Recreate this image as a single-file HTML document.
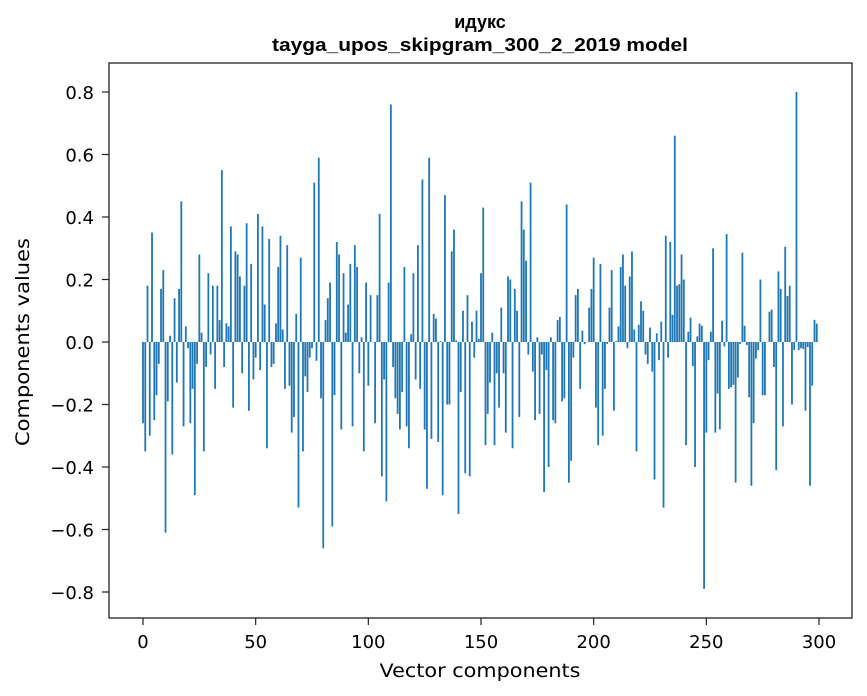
<!DOCTYPE html>
<html><head><meta charset="utf-8"><style>
html,body{margin:0;padding:0;background:#fff;}
svg{display:block;font-family:"DejaVu Sans","Liberation Sans",sans-serif;}
</style></head><body>
<svg id="chart" width="867" height="696" viewBox="0 0 867 696" xmlns="http://www.w3.org/2000/svg">
<rect x="0" y="0" width="867" height="696" fill="#fff"/>
<text x="480" y="28" text-anchor="middle" font-size="18" font-weight="bold" font-family="Liberation Sans, sans-serif">идукс</text>
<text x="480" y="51" text-anchor="middle" font-size="18" font-weight="bold" font-family="Liberation Sans, sans-serif" textLength="416" lengthAdjust="spacingAndGlyphs">tayga_upos_skipgram_300_2_2019 model</text>
<g id="bars"></g>
<g id="xticks"></g>
<g id="yticks"></g>
<rect x="109" y="63" width="743" height="555" fill="none" stroke="#222" stroke-width="1.3"/>
<text x="480" y="677" text-anchor="middle" font-size="19" textLength="201" lengthAdjust="spacingAndGlyphs">Vector components</text>
<text x="29" y="342" text-anchor="middle" font-size="19" textLength="208" lengthAdjust="spacingAndGlyphs" transform="rotate(-90 29 342)">Components values</text>
</svg>
<script>
const values = [
-0.26,-0.35,0.18,-0.30,0.35,-0.25,-0.17,-0.07,0.17,0.23,
-0.61,-0.19,0.02,-0.36,0.14,-0.13,0.17,0.45,-0.27,0.05,
-0.02,-0.26,-0.15,-0.49,-0.07,0.28,0.03,-0.35,-0.08,0.22,
-0.04,0.18,-0.15,0.18,0.07,0.55,-0.08,0.06,0.05,0.37,
-0.21,0.29,0.28,0.21,-0.10,0.18,0.38,-0.22,0.25,-0.12,
-0.05,0.41,-0.09,0.37,0.12,-0.34,0.33,-0.08,-0.07,0.06,
0.24,0.34,0.04,-0.15,0.31,-0.14,-0.29,-0.24,0.09,-0.53,
0.27,-0.35,-0.11,-0.16,-0.05,-0.02,0.51,-0.06,0.59,-0.18,
-0.66,0.07,0.14,0.19,-0.59,-0.17,0.32,0.28,-0.28,0.22,
0.03,0.12,0.25,-0.27,0.31,0.24,-0.10,0.015,-0.35,0.19,
-0.14,0.15,0.0,-0.26,0.15,0.41,-0.43,-0.12,-0.51,0.19,
0.76,-0.08,-0.18,-0.23,-0.28,-0.16,0.24,-0.27,-0.34,0.025,
0.22,-0.12,0.31,-0.15,0.52,-0.28,-0.47,0.59,-0.31,0.09,
0.075,-0.32,0.003,-0.49,0.47,-0.20,-0.20,0.29,0.36,0.005,
-0.55,-0.16,0.10,-0.42,0.15,-0.43,0.065,-0.05,0.10,0.01,
0.22,0.43,-0.33,-0.23,-0.13,0.03,-0.33,-0.10,-0.21,0.11,
-0.10,-0.29,0.21,0.20,-0.34,0.17,0.10,-0.24,0.45,0.36,
0.26,-0.04,0.51,-0.095,-0.25,0.015,-0.23,-0.04,-0.48,-0.09,
-0.40,0.015,-0.25,-0.26,0.07,0.08,-0.19,-0.18,0.44,-0.45,
-0.38,-0.05,0.15,0.17,-0.15,0.036,-0.007,0,0.11,0.17,
0.27,-0.21,-0.33,0.25,-0.30,-0.15,-0.006,0.11,0.23,-0.22,
0.003,0.05,0.24,0.28,0.18,-0.02,0.21,0.29,0.04,-0.35,
0.055,0.13,0.10,-0.04,-0.07,0.046,-0.095,-0.44,0.028,-0.058,
0.065,-0.53,0.34,-0.05,0.32,0.087,0.66,0.18,0.185,0.28,
0.20,-0.33,0.033,0.078,-0.077,-0.40,0.018,0.059,0.052,-0.79,
-0.29,-0.058,0.033,0.30,-0.29,-0.165,-0.28,0.068,-0.014,0.345,
-0.15,-0.145,-0.137,-0.45,-0.114,-0.006,0.286,0.052,-0.01,-0.177,
-0.46,-0.26,-0.053,-0.026,0.20,-0.17,-0.17,0.0,0.097,0.104,
-0.08,-0.41,0.226,0.17,-0.27,0.305,0.147,0.18,-0.20,-0.026,
0.80,-0.026,-0.02,-0.022,-0.22,-0.016,-0.46,-0.14,0.071,0.059
];
const xTickValues = [0,50,100,150,200,250,300];
const yTickValues = [0.8,0.6,0.4,0.2,0,-0.2,-0.4,-0.6,-0.8];
const yTickLabels = ["0.8","0.6","0.4","0.2","0.0","\u22120.2","\u22120.4","\u22120.6","\u22120.8"];

const NS = "http://www.w3.org/2000/svg";
function xScale(i){ return 143 + i * (676/300); }
function yScale(v){ return 342 - v * 312.5; }
const bw = 0.8 * (676/300);

const gb = document.getElementById('bars');
values.forEach((v, i) => {
  const r = document.createElementNS(NS, 'rect');
  const y0 = yScale(0), y1 = yScale(v);
  r.setAttribute('x', xScale(i) - bw/2);
  r.setAttribute('y', Math.min(y0, y1));
  r.setAttribute('width', bw);
  r.setAttribute('height', Math.max(Math.abs(y1 - y0), 0.3));
  r.setAttribute('fill', '#1f77b4');
  
  
  gb.appendChild(r);
});

const gx = document.getElementById('xticks');
xTickValues.forEach(t => {
  const x = xScale(t);
  const l = document.createElementNS(NS, 'line');
  l.setAttribute('x1', x); l.setAttribute('x2', x);
  l.setAttribute('y1', 618); l.setAttribute('y2', 625);
  l.setAttribute('stroke', '#222'); l.setAttribute('stroke-width', '1.2');
  
  
  gx.appendChild(l);
  const tx = document.createElementNS(NS, 'text');
  tx.setAttribute('x', x); tx.setAttribute('y', 648);
  tx.setAttribute('text-anchor', 'middle'); tx.setAttribute('font-size', '18');
  tx.textContent = String(t);
  
  
  gx.appendChild(tx);
});

const gy = document.getElementById('yticks');
yTickValues.forEach((t, k) => {
  const y = yScale(t);
  const l = document.createElementNS(NS, 'line');
  l.setAttribute('x1', 102); l.setAttribute('x2', 109);
  l.setAttribute('y1', y); l.setAttribute('y2', y);
  l.setAttribute('stroke', '#222'); l.setAttribute('stroke-width', '1.2');
  
  
  gy.appendChild(l);
  const tx = document.createElementNS(NS, 'text');
  tx.setAttribute('x', 94); tx.setAttribute('y', y + 7);
  tx.setAttribute('text-anchor', 'end'); tx.setAttribute('font-size', '18');
  tx.textContent = yTickLabels[k];
  
  
  gy.appendChild(tx);
});
</script>
</body></html>
